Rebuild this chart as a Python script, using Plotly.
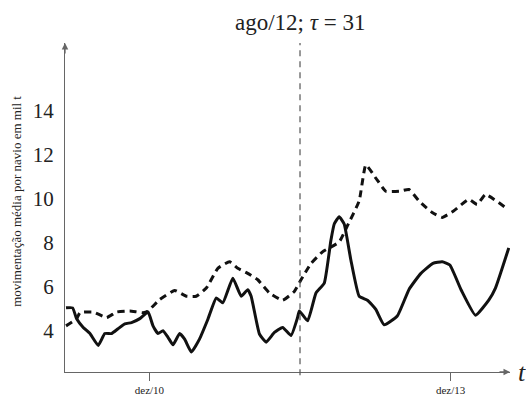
import plotly.graph_objects as go

# Time index (months) and series values, in thousand tonnes per ship
tau = 31
tau_label = "ago/12"

t_solid = [3.03, 3.82, 4.30, 5.09, 5.89, 6.88, 7.67, 8.47, 9.26, 10.06, 10.86, 11.85,
           12.84, 13.43, 14.03, 14.62, 15.22, 15.82, 16.61, 17.21, 18.01, 19.0, 19.99,
           20.99, 21.77, 22.97, 23.97, 24.75, 25.16, 26.15, 26.95, 27.94, 28.93, 29.93,
           30.71, 30.92, 31.91, 32.91, 33.90, 34.69, 35.09, 35.68, 36.28, 37.08, 38.07,
           39.06, 40.06, 41.05, 42.63, 44.03, 45.42, 46.89, 48.0, 48.91, 50.28, 51.98,
           53.56, 54.36, 55.95]
v_solid = [5.04, 5.04, 4.54, 4.15, 3.87, 3.33, 3.87, 3.87, 4.09, 4.31, 4.37, 4.55,
           4.85, 4.22, 3.87, 4.00, 3.70, 3.36, 3.87, 3.62, 3.03, 3.63, 4.52,
           5.49, 5.27, 6.39, 5.57, 5.87, 5.57, 3.85, 3.48, 3.92, 4.15, 3.78,
           4.60, 4.90, 4.45, 5.72, 6.17, 8.11, 8.86, 9.19, 8.86, 7.22, 5.57,
           5.39, 4.97, 4.27, 4.67, 5.88, 6.60, 7.07, 7.14, 6.99, 5.84, 4.70,
           5.39, 5.94, 7.77]

t_dashed = [3.03, 4.30, 4.70, 6.28, 7.88, 9.07, 10.65, 12.24, 12.84, 14.23, 16.02,
            17.41, 18.60, 19.80, 21.18, 22.57, 23.56, 24.75, 25.95, 27.34, 28.93,
            30.32, 31.12, 32.31, 33.69, 35.68, 36.67, 38.07, 38.87, 40.06, 41.25,
            42.84, 44.03, 45.22, 46.80, 48.0, 49.39, 51.18, 52.17, 53.17, 55.55]
v_dashed = [4.22, 4.54, 4.82, 4.85, 4.60, 4.85, 4.90, 4.82, 4.90, 5.42, 5.83,
            5.57, 5.57, 5.94, 6.84, 7.14, 6.84, 6.61, 6.32, 5.72, 5.39,
            5.79, 6.32, 7.06, 7.59, 8.04, 8.78, 9.91, 11.55, 10.95, 10.35,
            10.35, 10.43, 9.91, 9.38, 9.16, 9.46, 9.98, 9.75, 10.20, 9.61]

x_tick_vals = [13, 49]
x_tick_text = ["dez/10", "dez/13"]
y_tick_vals = [4, 6, 8, 10, 12, 14]

x_range = [2.91, 56.1]
y_range = [2.12, 17.1]

serif = "'Liberation Serif', 'Times New Roman', Times, 'DejaVu Serif', serif"
axis_color = "#666666"

fig = go.Figure()
fig.add_trace(go.Scatter(
    x=t_dashed, y=v_dashed, mode="lines",
    line=dict(color="#111111", width=3, dash="7px,5px", shape="spline", smoothing=0.4),
    showlegend=False, hoverinfo="skip"))
fig.add_trace(go.Scatter(
    x=t_solid, y=v_solid, mode="lines",
    line=dict(color="#111111", width=3, shape="spline", smoothing=0.4),
    showlegend=False, hoverinfo="skip"))

# vertical marker at tau
fig.add_shape(type="line", xref="x", yref="paper", x0=tau, x1=tau, y0=-0.01, y1=1,
              line=dict(color="#555555", width=1.2, dash="6px,5px"))

# arrow heads on the axes
fig.add_annotation(x=x_range[1], y=y_range[0], xref="x", yref="y", ax=-12, ay=0,
                   showarrow=True, arrowhead=2, arrowsize=1, arrowwidth=1.3,
                   arrowcolor=axis_color, text="")
fig.add_annotation(x=x_range[0], y=y_range[1], xref="x", yref="y", ax=0, ay=12,
                   showarrow=True, arrowhead=2, arrowsize=1, arrowwidth=1.3,
                   arrowcolor=axis_color, text="")

# title centred on tau
fig.add_annotation(x=tau, y=1.0, xref="x", yref="paper", yshift=6,
                   text=f"{tau_label}; <i>τ</i> = {tau}", showarrow=False,
                   xanchor="center", yanchor="bottom",
                   font=dict(family=serif, size=23, color="#222222"))

# axis label t
fig.add_annotation(x=1.0, y=0, xref="paper", yref="paper", xshift=6,
                   text="<i>t</i>", showarrow=False, xanchor="left", yanchor="middle",
                   font=dict(family=serif, size=26, color="#222222"))

# y axis label
fig.add_annotation(x=-0.108, y=0.52, xref="paper", yref="paper",
                   text="movimentação média por navio em mil t", textangle=-90,
                   showarrow=False, xanchor="center", yanchor="middle",
                   font=dict(family=serif, size=13, color="#222222"))

fig.update_layout(
    width=526, height=408,
    margin=dict(l=65, r=16, t=43, b=31),
    paper_bgcolor="white", plot_bgcolor="white",
    xaxis=dict(range=x_range, showgrid=False, zeroline=False,
               showline=True, linecolor=axis_color, linewidth=1.3,
               tickmode="array", tickvals=x_tick_vals, ticktext=x_tick_text,
               ticks="outside", ticklen=8, tickcolor=axis_color, tickwidth=1.2,
               tickfont=dict(family=serif, size=11, color="#222222")),
    yaxis=dict(range=y_range, showgrid=False, zeroline=False,
               showline=True, linecolor=axis_color, linewidth=1.3,
               tickmode="array", tickvals=y_tick_vals, ticks="",
               ticklabelstandoff=6,
               tickfont=dict(family=serif, size=21, color="#222222")),
)

fig.write_html("out.html")
